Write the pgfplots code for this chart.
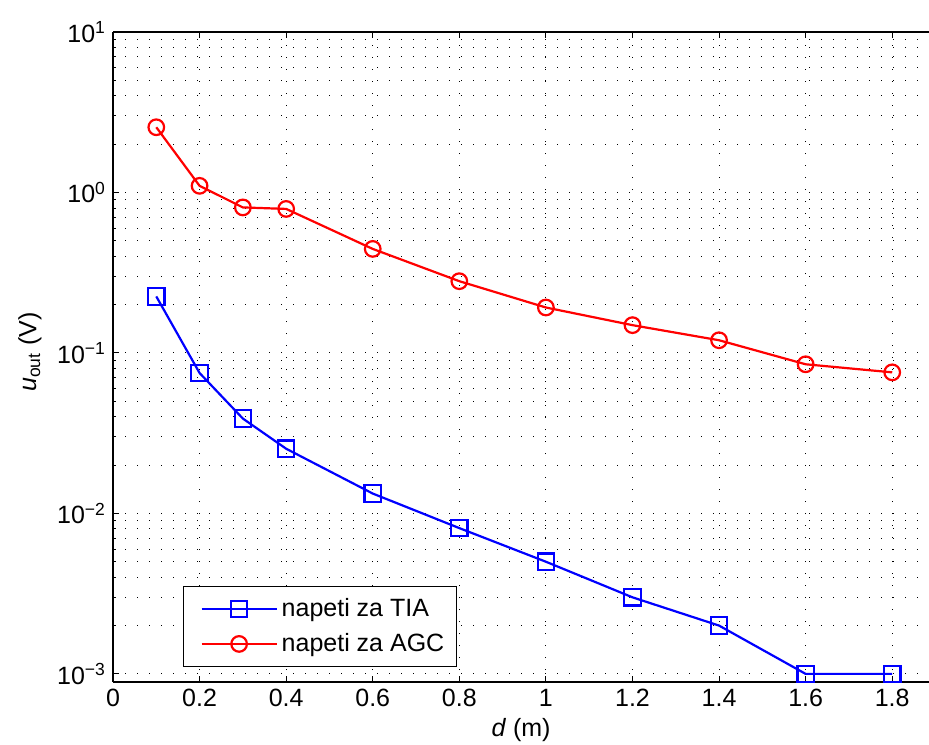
\documentclass[border=0pt]{standalone}
\usepackage{pgfplots}
\pgfplotsset{compat=1.18}
\usepackage{fontspec}
\setmainfont{Liberation Sans}
\begin{document}
\begin{tikzpicture}[x=1pt,y=1pt]
\path[use as bounding box] (0,0) rectangle (464.5,372);
\begin{axis}[
  at={(56.5pt,31pt)}, anchor=south west,
  scale only axis, width=408pt, height=325pt,
  ymode=log, xmin=0, xmax=1.885, ymin=8.9e-4, ymax=10,
  axis x line*=box, axis y line*=left,
  axis line style={line width=0.6pt},
  xtick={0,0.2,0.4,0.6,0.8,1,1.2,1.4,1.6,1.8},
  xticklabels={0,0.2,0.4,0.6,0.8,1,1.2,1.4,1.6,1.8},
  ytick={1e-3,1e-2,1e-1,1,10},
  yticklabels={10\textsuperscript{−3},10\textsuperscript{−2},10\textsuperscript{−1},10\textsuperscript{0},10\textsuperscript{1}},
  tick style={black, line width=0.5pt},
  major tick length=3pt, minor tick length=1.6pt,
  tick align=inside,
  ticklabel style={font=\fontsize{12.5}{14}\selectfont},
  grid=both,
  major grid style={black, line width=0.5pt, dash pattern=on 0.5pt off 5.5pt},
  minor grid style={black, line width=0.5pt, dash pattern=on 0.5pt off 5.5pt},
  minor x tick num=0,
  xlabel={\textit{d} (m)},
  ylabel={\textit{u}\textsubscript{out} (V)},
  label style={font=\fontsize{12.5}{14}\selectfont},
  x label style={at={(axis description cs:0.5,0)}, anchor=center, yshift=-24pt},
  y label style={at={(axis description cs:0,0.5)}, anchor=center, yshift=41.5pt, xshift=2.5pt},
  legend style={at={(0.0858,0.0231)}, anchor=south west, draw=black, line width=0.5pt,
    font=\fontsize{12.5}{14}\selectfont, inner xsep=4pt, inner ysep=4pt, row sep=3pt},
  legend cell align=left,
  legend image code/.code={\path (0pt,0pt) -- (0pt,0pt); \draw[mark repeat=2,mark phase=2] plot coordinates {(4.5pt,0pt) (23.25pt,0pt) (42pt,0pt)};},
]
\addplot[blue, line width=1.1pt, mark=square, mark size=4.1pt, mark options={solid, line width=1.1pt}]
coordinates {(0.1,0.225) (0.2,0.075) (0.3,0.039) (0.4,0.0253) (0.6,0.0133) (0.8,0.0081) (1.0,0.005) (1.2,0.003) (1.4,0.002) (1.6,0.001) (1.8,0.001)};
\addlegendentry{napeti za TIA}
\addplot[red, line width=1.1pt, mark=o, mark size=3.9pt, mark options={solid, line width=1.1pt}]
coordinates {(0.1,2.55) (0.2,1.1) (0.3,0.807) (0.4,0.79) (0.6,0.445) (0.8,0.28) (1.0,0.192) (1.2,0.149) (1.4,0.12) (1.6,0.085) (1.8,0.0757)};
\addlegendentry{napeti za AGC}
\end{axis}
\end{tikzpicture}
\end{document}
